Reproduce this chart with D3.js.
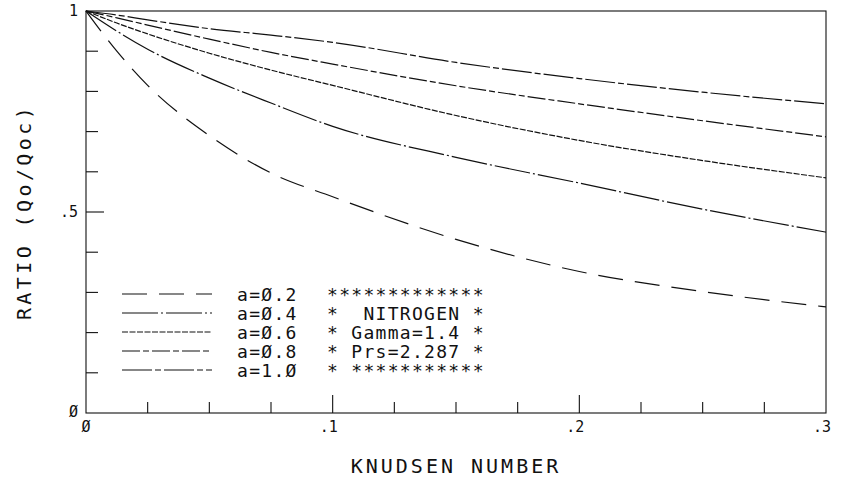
<!DOCTYPE html>
<html>
<head>
<meta charset="utf-8">
<script src="https://cdn.jsdelivr.net/npm/d3@7/dist/d3.min.js"></script>
<style>
  html, body { margin: 0; padding: 0; background: #fff; }
  svg { display: block; }
  text { font-family: "DejaVu Sans Mono", monospace; fill: #111; }
</style>
</head>
<body>
<svg id="chart" width="841" height="479"></svg>
<script>
// ---- data ----
const knudsen = [0, 0.0125, 0.025, 0.05, 0.075, 0.1, 0.15, 0.2, 0.25, 0.3];
const ratioA10 = [1, 0.99, 0.978, 0.956, 0.94, 0.922, 0.872, 0.832, 0.798, 0.769];
const ratioA08 = [1, 0.983, 0.965, 0.93, 0.897, 0.868, 0.814, 0.769, 0.727, 0.687];
const ratioA06 = [1, 0.97, 0.943, 0.895, 0.853, 0.815, 0.74, 0.678, 0.628, 0.585];
const ratioA04 = [1, 0.95, 0.905, 0.833, 0.771, 0.713, 0.636, 0.572, 0.507, 0.45];
const ratioA02 = [1, 0.90, 0.815, 0.69, 0.597, 0.538, 0.432, 0.352, 0.302, 0.264];

const seriesNames = ["a=\u00D8.2", "a=\u00D8.4", "a=\u00D8.6", "a=\u00D8.8", "a=1.\u00D8"];
const seriesValues = [ratioA02, ratioA04, ratioA06, ratioA08, ratioA10];
const seriesDash = ["25,12", "36,3,2,3", "6,1.5", "18,3,6,3", "30,3,6,3"];

const infoLines = ["*************", "*  NITROGEN *", "* Gamma=1.4 *", "* Prs=2.287 *", "* ***********"];

const xTickValues = [0, 0.025, 0.05, 0.075, 0.1, 0.125, 0.15, 0.175, 0.2, 0.225, 0.25, 0.275, 0.3];
const xMajorTicks = [0, 0.1, 0.2, 0.3];
const xTickLabels = ["\u00D8", ".1", ".2", ".3"];
const yTickValues = [0, 0.1, 0.2, 0.3, 0.4, 0.5, 0.6, 0.7, 0.8, 0.9, 1];
const yMajorTicks = [0, 0.5, 1];
const yTickLabels = ["\u00D8", ".5", "1"];

const xTitle = "KNUDSEN NUMBER";
const yTitle = "RATIO (Qo/Qoc)";

// ---- layout ----
const svg = d3.select("#chart");
const L = 86, R = 826, T = 11, B = 413;
const x = d3.scaleLinear().domain([0, 0.3]).range([L, R]);
const y = d3.scaleLinear().domain([0, 1]).range([B, T]);
const ink = "#111";

// frame
svg.append("rect").attr("x", L).attr("y", T).attr("width", R - L).attr("height", B - T)
  .attr("fill", "none").attr("stroke", ink).attr("stroke-width", 1.1);

// x ticks (inward)
const isMajorX = v => xMajorTicks.some(m => Math.abs(m - v) < 1e-9);
const xAxis = d3.axisBottom(x).tickValues(xTickValues).tickSize(0).tickFormat("");
const gx = svg.append("g").attr("transform", `translate(0,${B})`).call(xAxis);
gx.select(".domain").remove();
svg.append("g").selectAll("line").data(xTickValues.filter(v => v > 0 && v < 0.3)).join("line")
  .attr("x1", d => x(d)).attr("x2", d => x(d))
  .attr("y1", B).attr("y2", d => B - (isMajorX(d) ? 18 : 11))
  .attr("stroke", ink).attr("stroke-width", 1.1);
svg.append("g").selectAll("text").data(xMajorTicks).join("text")
  .attr("x", d => x(d) + (d === 0 ? 0 : -4)).attr("y", 432)
  .attr("text-anchor", "middle").attr("font-size", 15)
  .text((d, i) => xTickLabels[i]);

// y ticks (inward)
const isMajorY = v => yMajorTicks.some(m => Math.abs(m - v) < 1e-9);
svg.append("g").selectAll("line").data(yTickValues.filter(v => v > 0 && v < 1)).join("line")
  .attr("x1", L).attr("x2", d => L + (isMajorY(d) ? 18 : 12))
  .attr("y1", d => y(d)).attr("y2", d => y(d))
  .attr("stroke", ink).attr("stroke-width", 1.1);
svg.append("g").selectAll("text").data(yMajorTicks).join("text")
  .attr("x", 78).attr("y", d => y(d) + 5 + (d === 0 ? -1 : 0))
  .attr("text-anchor", "end").attr("font-size", 15)
  .text((d, i) => yTickLabels[i]);

// axis titles
svg.append("text").attr("x", (L + R) / 2).attr("y", 473)
  .attr("text-anchor", "middle").attr("font-size", 20).attr("letter-spacing", 3)
  .text(xTitle);
svg.append("text").attr("transform", `translate(31,${(T + B) / 2}) rotate(-90)`)
  .attr("text-anchor", "middle").attr("font-size", 20).attr("letter-spacing", 3.4)
  .text(yTitle);

// curves
const line = d3.line().x(d => x(d[0])).y(d => y(d[1])).curve(d3.curveMonotoneX);
svg.append("g").selectAll("path").data(seriesValues).join("path")
  .attr("d", vals => line(knudsen.map((k, i) => [k, vals[i]])))
  .attr("fill", "none").attr("stroke", ink).attr("stroke-width", 1.2)
  .attr("stroke-dasharray", (d, i) => seriesDash[i]);

// legend
const legY0 = 294, legDy = 19;
const leg = svg.append("g");
seriesNames.forEach((name, i) => {
  const yy = legY0 + i * legDy;
  leg.append("line").attr("x1", 122).attr("x2", 212).attr("y1", yy).attr("y2", yy)
    .attr("stroke", ink).attr("stroke-width", 1.2).attr("stroke-dasharray", seriesDash[i]);
  leg.append("text").attr("x", 237).attr("y", yy + 6.5).attr("font-size", 18)
    .attr("letter-spacing", 1.3).text(name);
  leg.append("text").attr("x", 327).attr("y", yy + 6.5).attr("font-size", 18)
    .attr("letter-spacing", 1.3).attr("xml:space", "preserve").style("white-space", "pre")
    .text(infoLines[i]);
});
</script>
</body>
</html>
